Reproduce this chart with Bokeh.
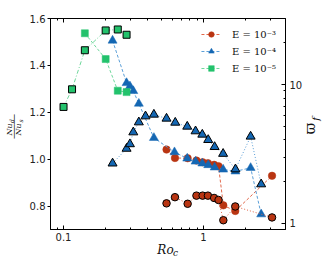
import math
from bokeh.plotting import figure
from bokeh.models import (Range1d, LogScale, LogAxis, FixedTicker, Legend,
                          LegendItem, Label)
from bokeh.embed import file_html
from bokeh.resources import INLINE

# ---------------- data ----------------
# E = 1e-3
red_ro = [0.544, 0.625, 0.77, 0.89, 0.985, 1.075, 1.19, 1.28, 1.385, 1.685, 3.085]
red_nu = [1.041, 1.005, 1.004, 0.994, 0.987, 0.983, 0.976, 0.970, 0.803, 0.779, 0.929]
red_w = [1.39, 1.54, 1.38, 1.58, 1.58, 1.58, 1.52, 1.47, 1.05, 1.32, 1.10]

# E = 1e-4
blue_ro_nu = [0.224, 0.282, 0.298, 0.315, 0.345, 0.442, 0.62, 0.765, 0.877, 0.98,
              1.08, 1.20, 1.38, 1.69, 2.17, 2.58]
blue_nu = [1.506, 1.325, 1.311, 1.291, 1.237, 1.091, 1.030, 1.003, 0.990, 0.982,
           0.975, 0.965, 0.956, 0.948, 0.963, 0.765]
blue_ro_w = [0.224, 0.282, 0.298, 0.315, 0.345, 0.385, 0.442, 0.544, 0.628, 0.765,
             0.877, 0.98, 1.08, 1.20, 1.38, 1.69, 2.17, 2.58]
blue_w = [2.70, 3.45, 3.72, 4.53, 5.35, 5.91, 6.08, 5.69, 5.32, 4.98,
          4.61, 4.36, 3.99, 3.55, 3.17, 2.45, 4.22, 1.91]

# E = 1e-5
green_ro_nu = [0.142, 0.200, 0.244, 0.282]
green_nu = [1.537, 1.427, 1.292, 1.286]
green_ro_w = [0.100, 0.115, 0.142, 0.200, 0.244, 0.282]
green_w = [6.9, 9.25, 17.7, 24.6, 25.0, 22.9]

legend_labels = ["E = 10\u207b\u00b3", "E = 10\u207b\u2074", "E = 10\u207b\u2075"]

x_ticks = [0.1, 1]
x_tick_labels = ["0.1", "1"]
x_minor = [0.09, 0.2, 0.3, 0.4, 0.5, 0.6, 0.7, 0.8, 0.9, 2, 3]
y_ticks = [0.8, 1.0, 1.2, 1.4, 1.6]
y_tick_labels = ["0.8", "1.0", "1.2", "1.4", "1.6"]
w_ticks = [1, 10]
w_tick_labels = ["1", "10"]
w_minor = [2, 3, 4, 5, 6, 7, 8, 9, 20]

X_RANGE = (0.0807, 3.85)
Y_RANGE = (0.70, 1.60)
W_RANGE = (0.90, 30.0)

RED, RED_L = "#b93512", "#e2674a"
BLUE, BLUE_L = "#1467b3", "#5b9fd8"
GREEN, GREEN_L = "#23c26c", "#6fd89c"

# ---------------- figure ----------------
FW, FH = 235, 211
F_LEFT, F_TOP = 50, 18
p = figure(x_axis_type="log", x_range=Range1d(*X_RANGE), y_range=Range1d(*Y_RANGE),
           frame_width=FW, frame_height=FH,
           min_border_left=F_LEFT, min_border_right=50, min_border_top=F_TOP,
           min_border_bottom=34,
           output_backend="svg", toolbar_location=None)
p.extra_y_ranges = {"w": Range1d(*W_RANGE)}
p.extra_y_scales = {"w": LogScale()}
p.grid.visible = False
p.outline_line_color = "black"
p.background_fill_color = "white"
p.border_fill_color = "white"


def style_axis(ax):
    ax.axis_line_color = "black"
    ax.axis_line_width = 1
    ax.major_tick_line_color = "black"
    ax.minor_tick_line_color = "black"
    ax.major_label_text_font = "DejaVu Sans"
    ax.major_label_text_font_size = "10px"
    ax.major_label_text_color = "#222222"
    ax.axis_label = None


# bottom
xa = p.xaxis[0]
style_axis(xa)
xa.ticker = FixedTicker(ticks=x_ticks, minor_ticks=x_minor)
xa.major_label_overrides = dict(zip(x_ticks, x_tick_labels))
xa.major_tick_in, xa.major_tick_out = 4, 0
xa.minor_tick_in, xa.minor_tick_out = 2, 0
xa.major_label_standoff = 3

# left
ya = p.yaxis[0]
style_axis(ya)
ya.ticker = FixedTicker(ticks=y_ticks, minor_ticks=[])
ya.major_label_overrides = dict(zip(y_ticks, y_tick_labels))
ya.major_tick_in, ya.major_tick_out = 0, 3
ya.minor_tick_in, ya.minor_tick_out = 0, 0
ya.major_label_standoff = 2

# top (ticks only)
ta = LogAxis(ticker=FixedTicker(ticks=x_ticks, minor_ticks=x_minor))
style_axis(ta)
ta.major_label_text_font_size = "1px"
ta.major_label_overrides = {t: "" for t in x_ticks}
ta.major_label_standoff = 0
ta.major_tick_in, ta.major_tick_out = 4, 0
ta.minor_tick_in, ta.minor_tick_out = 2, 0
p.add_layout(ta, "above")

# right
ra = LogAxis(y_range_name="w", ticker=FixedTicker(ticks=w_ticks, minor_ticks=w_minor))
style_axis(ra)
ra.major_label_overrides = dict(zip(w_ticks, w_tick_labels))
ra.major_tick_in, ra.major_tick_out = 4, 0
ra.minor_tick_in, ra.minor_tick_out = 2, 0
ra.major_label_standoff = 4
p.add_layout(ra, "right")

# ---------------- glyphs ----------------
series = [
    (red_ro, red_nu, red_ro, red_w, "circle", 7.5, RED, RED_L, "1 2"),
    (blue_ro_nu, blue_nu, blue_ro_w, blue_w, "triangle", 9, BLUE, BLUE_L, "1 2"),
    (green_ro_nu, green_nu, green_ro_w, green_w, "square", 7, GREEN, GREEN_L, "4 2 1 2"),
]

legend_items = []
for (xn, yn, xw, yw, mk, sz, c, cl, wd), lab_text in zip(series, legend_labels):
    ln = p.line(xn, yn, line_color=cl, line_width=1, line_dash="3 2")
    sc = p.scatter(xn, yn, marker=mk, size=sz, fill_color=c, line_color=c, line_width=0.5)
    legend_items.append(LegendItem(label=lab_text, renderers=[ln, sc]))

for (xn, yn, xw, yw, mk, sz, c, cl, wd) in series:
    p.line(xw, yw, y_range_name="w", line_color=cl, line_width=1, line_dash=wd)
    p.scatter(xw, yw, y_range_name="w", marker=mk, size=sz, fill_color=c,
              line_color="black", line_width=1)

legend = Legend(items=legend_items, location="top_right", margin=7,
                border_line_alpha=0, background_fill_alpha=0,
                glyph_width=20, glyph_height=14, label_height=14, spacing=3,
                padding=2, label_standoff=11,
                label_text_font="DejaVu Serif", label_text_font_size="10px",
                label_text_color="#111111")
p.add_layout(legend)

# ---------------- axis labels (page pixel -> data helpers) ----------------
# Labels live in the right/bottom side panels (so they are not clipped to the
# frame and do not push the frame), but are placed by data coordinates.
lx0, lx1 = math.log10(X_RANGE[0]), math.log10(X_RANGE[1])


def ax_x(px):
    return 10 ** (lx0 + (px - F_LEFT) / FW * (lx1 - lx0))


def ax_y(py):
    return Y_RANGE[1] - (py - F_TOP) / FH * (Y_RANGE[1] - Y_RANGE[0])


def lab(px, py, text, size, side, angle=0.0, italic=True, font="DejaVu Serif"):
    p.add_layout(Label(x=ax_x(px), y=ax_y(py), text=text, angle=angle,
                       text_font=font,
                       text_font_style="italic" if italic else "normal",
                       text_font_size=size, text_color="#111111",
                       text_align="center", text_baseline="middle"), side)


# x label Ro_c
lab(165, 249, "Ro", "12px", "below")
lab(175, 252.5, "c", "9px", "below")

# y label Nu_d / Nu_s (rotated fraction)
R = math.pi / 2
lab(9, 129, "Nu", "8px", "right", R)
lab(11, 120.5, "d", "6px", "right", R)
lab(14, 126, "\u2500\u2500\u2500\u2500\u2500", "8px", "right", R, False, "DejaVu Sans Mono")
lab(18, 129, "Nu", "8px", "right", R)
lab(20, 120.5, "s", "6px", "right", R)

# right label varpi_f
lab(309.5, 128, "\u03d6", "14px", "right", R, italic=False)
lab(315, 118.5, "f", "10px", "right", R)

open("out.html", "w").write(file_html(p, INLINE))
